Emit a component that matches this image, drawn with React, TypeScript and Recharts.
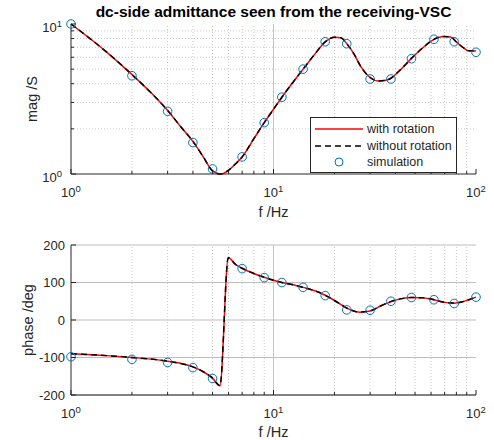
import { ComposedChart, Line, XAxis, YAxis, ReferenceLine, Legend, CartesianGrid } from 'recharts'

// simulation points (circles)
const simFreq = [1, 2, 3, 4, 5, 7, 9, 11, 14, 18, 23, 30, 38, 48, 62, 78, 100]
const simMag = [10, 4.52, 2.62, 1.62, 1.08, 1.3, 2.2, 3.25, 5.0, 7.62, 7.39, 4.3, 4.3, 5.87, 7.91, 7.62, 6.48]
const simPhase = [-98, -105, -113, -127, -156, 137, 113, 100, 87, 65, 27, 26, 50, 60, 54, 44, 61]

// analytical model curves (with / without rotation overlap)
const magFreq = [1, 1.5, 2, 2.5, 3, 3.5, 4, 4.5, 5, 5.5, 6, 6.5, 7, 8, 9, 10, 11, 12.5, 14, 16, 18, 20, 21.5, 23, 25, 27, 30, 33, 36, 38, 42, 48, 55, 62, 69, 75, 80, 86, 92, 100]
const magRot = [10, 6.5, 4.6, 3.45, 2.65, 2.05, 1.65, 1.3, 1.05, 1.0, 1.06, 1.17, 1.3, 1.72, 2.2, 2.7, 3.25, 4.1, 5.0, 6.3, 7.6, 8.15, 8.1, 7.4, 6.3, 5.2, 4.4, 4.17, 4.22, 4.35, 4.9, 5.9, 7.0, 7.9, 8.25, 8.2, 7.6, 7.0, 6.62, 6.6]
const phaseFreq = [1, 1.5, 2, 3, 4, 4.5, 5, 5.44, 5.98, 6.5, 7, 8, 9, 10, 11, 12.5, 14, 16, 18, 20, 22, 24, 26.7, 30, 34, 38, 43, 48, 55, 62, 70, 78, 85, 92, 100]
const phaseRot = [-90, -95, -100, -110, -125, -138, -155, -175, 166, 148, 138, 124, 114, 106, 100, 94, 87, 78, 66, 52, 38, 27, 21, 24, 38, 49, 57, 60, 59, 54, 47, 45, 48, 54, 61]

// ticks and grid
const xMajor = [1, 10, 100]
const xMinor = [2, 3, 4, 5, 6, 7, 8, 9, 20, 30, 40, 50, 60, 70, 80, 90]
const magMajor = [1, 10]
const magMinor = [2, 3, 4, 5, 6, 7, 8, 9]
const phaseTicks = [-200, -100, 0, 100, 200]

const magLine = magFreq.map((f, i) => ({ f, rot: magRot[i], norot: magRot[i] }))
const phaseLine = phaseFreq.map((f, i) => ({ f, rot: phaseRot[i], norot: phaseRot[i] }))
const simMagData = simFreq.map((f, i) => ({ f, v: simMag[i] }))
const simPhaseData = simFreq.map((f, i) => ({ f, v: simPhase[i] }))

const FONT = '"Liberation Sans", Arial, sans-serif'
const INK = '#262626'
const BLUE = '#0072BD'
const xTicks = [...xMajor, ...xMinor]

const BottomTick = (props: any) => {
  const { x, y, payload } = props
  const major = xMajor.includes(payload.value)
  return (
    <g>
      <line x1={x} y1={y} x2={x} y2={y - (major ? 5 : 3)} stroke={INK} />
      {major && (
        <text x={x} y={y + 23} textAnchor="middle" fontSize={13} fill={INK} fontFamily={FONT}>
          10<tspan dy={-5.5} fontSize={9.5}>{Math.round(Math.log10(payload.value))}</tspan>
        </text>
      )}
    </g>
  )
}

const TopTick = (props: any) => {
  const { x, y, payload } = props
  const major = xMajor.includes(payload.value)
  return <line x1={x} y1={y} x2={x} y2={y + (major ? 5 : 3)} stroke={INK} />
}

const LeftLogTick = (props: any) => {
  const { x, y, payload } = props
  const major = magMajor.includes(payload.value)
  return (
    <g>
      <line x1={x} y1={y} x2={x + (major ? 5 : 3)} y2={y} stroke={INK} />
      {major && (
        <text x={x - 9} y={y + 8} textAnchor="end" fontSize={13} fill={INK} fontFamily={FONT}>
          10<tspan dy={-5.5} fontSize={9.5}>{Math.round(Math.log10(payload.value))}</tspan>
        </text>
      )}
    </g>
  )
}

const RightTick = (props: any) => {
  const { x, y, payload } = props
  const major = magMajor.includes(payload.value) || phaseTicks.includes(payload.value)
  return <line x1={x} y1={y} x2={x - (major ? 5 : 3)} y2={y} stroke={INK} />
}

const LeftLinTick = (props: any) => {
  const { x, y, payload } = props
  return (
    <g>
      <line x1={x} y1={y} x2={x + 5} y2={y} stroke={INK} />
      <text x={x - 6} y={y + 4.5} textAnchor="end" fontSize={13} fill={INK} fontFamily={FONT}>
        {payload.value}
      </text>
    </g>
  )
}

const legendRows = [
  { name: 'with rotation', kind: 'red' },
  { name: 'without rotation', kind: 'dash' },
  { name: 'simulation', kind: 'circle' },
]

const LegendBox = () => (
  <div
    style={{
      position: 'relative',
      width: 147,
      height: 56,
      boxSizing: 'border-box',
      border: `1px solid ${INK}`,
      background: '#fff',
      fontFamily: FONT,
      fontSize: 12.5,
      color: INK,
    }}
  >
    {legendRows.map((r, i) => (
      <div key={r.name} style={{ position: 'absolute', left: 0, top: [3, 20, 36][i], height: 16, width: '100%' }}>
        <svg width={56} height={16} style={{ position: 'absolute', left: 0, top: 0 }}>
          {r.kind === 'red' && <line x1={4} y1={8} x2={52} y2={8} stroke="#ff0000" strokeWidth={1.5} />}
          {r.kind === 'dash' && (
            <line x1={4} y1={8} x2={52} y2={8} stroke="#000" strokeWidth={1.5} strokeDasharray="6 4" />
          )}
          {r.kind === 'circle' && <circle cx={28} cy={8} r={4} fill="none" stroke={BLUE} strokeWidth={1} />}
        </svg>
        <span style={{ position: 'absolute', left: 56, top: 0, lineHeight: '16px', whiteSpace: 'nowrap' }}>{r.name}</span>
      </div>
    ))}
  </div>
)

const gridMinor = { stroke: '#c8c8c8', strokeDasharray: '1 2', strokeWidth: 1 }
const gridMajor = { stroke: '#c4c4c4', strokeWidth: 1 }

const xLabel = { value: 'f /Hz', position: 'insideBottom' as const, offset: 3, fill: INK, fontSize: 14.5, fontFamily: FONT }

export default function App() {
  return (
    <div style={{ position: 'absolute', left: 0, top: 0, width: 494, height: 440, background: '#fff' }}>
      <div
        style={{
          position: 'absolute',
          left: 71,
          top: 2,
          width: 405,
          textAlign: 'center',
          fontFamily: FONT,
          fontWeight: 'bold',
          fontSize: 15.5,
          lineHeight: '20px',
          color: '#000',
          zIndex: 2,
          whiteSpace: 'nowrap',
        }}
      >
        dc-side admittance seen from the receiving-VSC
      </div>

      <div style={{ position: 'absolute', left: 0, top: 0 }}>
        <ComposedChart width={494} height={220} margin={{ top: 24, right: 18, bottom: 0, left: 0 }}>
          <XAxis
            dataKey="f"
            type="number"
            scale="log"
            domain={[1, 100]}
            ticks={xTicks}
            interval={0}
            tick={<BottomTick />}
            tickLine={false}
            tickSize={0}
            tickMargin={0}
            axisLine={{ stroke: INK }}
            height={46}
            label={xLabel}
          />
          <XAxis xAxisId="top" orientation="top" type="number" scale="log" domain={[1, 100]} ticks={xTicks} interval={0} tick={<TopTick />} tickLine={false} tickSize={0} tickMargin={0} axisLine={{ stroke: INK }} height={0} />
          <YAxis
            type="number"
            scale="log"
            domain={[1, 10]}
            ticks={[...magMajor, ...magMinor]}
            interval={0}
            tick={<LeftLogTick />}
            tickLine={false}
            tickSize={0}
            tickMargin={0}
            axisLine={{ stroke: INK }}
            width={71}
            label={{ value: 'mag /S', angle: -90, position: 'insideLeft', offset: 32, fill: INK, fontSize: 14.5, fontFamily: FONT, style: { textAnchor: 'middle' } }}
          />
          <YAxis yAxisId="right" orientation="right" type="number" scale="log" domain={[1, 10]} ticks={[...magMajor, ...magMinor]} interval={0} tick={<RightTick />} tickLine={false} tickSize={0} tickMargin={0} axisLine={{ stroke: INK }} width={0} />
          {xMinor.map((v) => (
            <ReferenceLine key={`mx${v}`} x={v} {...gridMinor} zIndex={-50} />
          ))}
          {magMinor.map((v) => (
            <ReferenceLine key={`my${v}`} y={v} {...gridMinor} zIndex={-50} />
          ))}
          <ReferenceLine x={10} {...gridMajor} zIndex={-50} />
          <Line data={magLine} dataKey="rot" stroke="#ff0000" strokeWidth={1.5} dot={false} activeDot={false} type="monotone" isAnimationActive={false} />
          <Line data={magLine} dataKey="norot" stroke="#000" strokeWidth={1.5} strokeDasharray="6 4" dot={false} activeDot={false} type="monotone" isAnimationActive={false} />
          <Line data={simMagData} dataKey="v" stroke="none" dot={{ r: 4.3, stroke: BLUE, strokeWidth: 1, fill: 'none' }} activeDot={false} isAnimationActive={false} />
          <Legend layout="vertical" align="center" verticalAlign="middle" wrapperStyle={{ left: 310, top: 117, width: 147, height: 56 }} content={() => <LegendBox />} />
        </ComposedChart>
      </div>

      <div style={{ position: 'absolute', left: 0, top: 220 }}>
        <ComposedChart width={494} height={220} margin={{ top: 25, right: 18, bottom: 0, left: 0 }}>
          <CartesianGrid vertical={false} stroke="#bdbdbd" strokeWidth={1} />
          <XAxis
            dataKey="f"
            type="number"
            scale="log"
            domain={[1, 100]}
            ticks={xTicks}
            interval={0}
            tick={<BottomTick />}
            tickLine={false}
            tickSize={0}
            tickMargin={0}
            axisLine={{ stroke: INK }}
            height={45}
            label={xLabel}
          />
          <XAxis xAxisId="top" orientation="top" type="number" scale="log" domain={[1, 100]} ticks={xTicks} interval={0} tick={<TopTick />} tickLine={false} tickSize={0} tickMargin={0} axisLine={{ stroke: INK }} height={0} />
          <YAxis
            type="number"
            domain={[-200, 200]}
            ticks={phaseTicks}
            interval={0}
            tick={<LeftLinTick />}
            tickLine={false}
            tickSize={0}
            tickMargin={0}
            axisLine={{ stroke: INK }}
            width={71}
            label={{ value: 'phase /deg', angle: -90, position: 'insideLeft', offset: 28, fill: INK, fontSize: 14.5, fontFamily: FONT, style: { textAnchor: 'middle' } }}
          />
          <YAxis yAxisId="right" orientation="right" type="number" domain={[-200, 200]} ticks={phaseTicks} interval={0} tick={<RightTick />} tickLine={false} tickSize={0} tickMargin={0} axisLine={{ stroke: INK }} width={0} />
          {xMinor.map((v) => (
            <ReferenceLine key={`px${v}`} x={v} {...gridMinor} zIndex={-50} />
          ))}
          <ReferenceLine x={10} {...gridMajor} zIndex={-50} />
          <Line data={phaseLine} dataKey="rot" stroke="#ff0000" strokeWidth={1.5} dot={false} activeDot={false} type="monotone" isAnimationActive={false} />
          <Line data={phaseLine} dataKey="norot" stroke="#000" strokeWidth={1.5} strokeDasharray="6 4" dot={false} activeDot={false} type="monotone" isAnimationActive={false} />
          <Line data={simPhaseData} dataKey="v" stroke="none" dot={{ r: 4.3, stroke: BLUE, strokeWidth: 1, fill: 'none' }} activeDot={false} isAnimationActive={false} />
        </ComposedChart>
      </div>
    </div>
  )
}
